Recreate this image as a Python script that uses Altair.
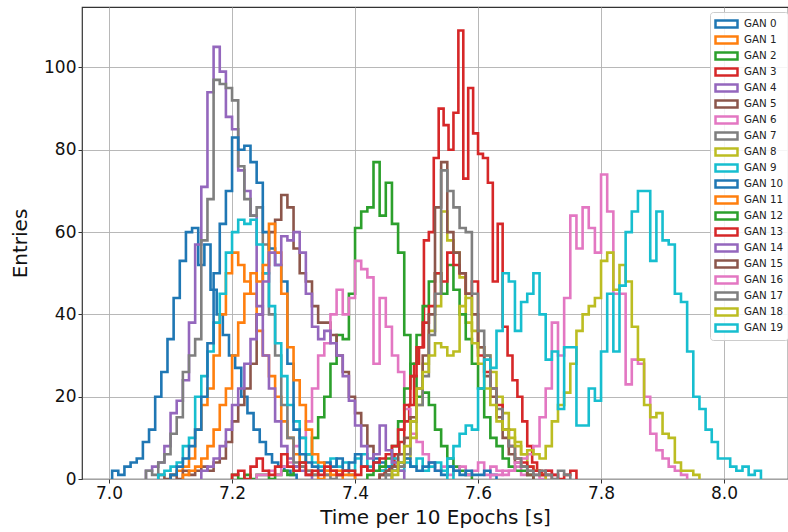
import altair as alt
import pandas as pd

# Step histograms of the time per 10 epochs, one per GAN.
# Each series: first bin edge, bin width, entries per bin.
gan_names = [f"GAN {i}" for i in range(20)]

gan_start = [7.005, 7.10, 7.20, 7.44, 7.06, 7.08, 7.24, 7.06, 7.46, 7.08,
             7.10, 7.12, 7.42, 7.20, 7.15, 7.44, 7.62, 7.45, 7.46, 7.55]

gan_width = [0.01, 0.01, 0.01, 0.008, 0.01, 0.01, 0.01, 0.01, 0.01, 0.01,
             0.01, 0.01, 0.01, 0.01, 0.01, 0.01, 0.01, 0.01, 0.01, 0.01]

gan0 = [2, 1, 3, 4, 5, 9, 12, 20, 26, 34, 44, 53, 60, 61, 52, 57, 46, 40, 35, 30,
        27, 20, 16, 12, 9, 6, 4, 3, 2, 1]
gan1 = [1, 2, 3, 5, 12, 18, 22, 30, 40, 50, 55, 52, 48, 45, 36, 30, 25, 20, 14, 10,
        6, 3, 2, 1, 0, 1, 2, 1]
gan2 = [1, 0, 1, 0, 1, 1, 0, 1, 2, 1, 3, 4, 6, 10, 15, 20, 28, 35, 34, 45,
        61, 65, 66, 77, 64, 72, 62, 55, 35, 25, 20, 21, 18, 12, 8, 5, 3, 2, 1]
gan3 = [1, 2, 3, 6, 9, 14, 18, 28, 32, 58, 60, 78, 90, 86, 80, 89, 109, 73, 95, 84,
        79, 78, 72, 48, 62, 37, 30, 24, 20, 14, 8, 4, 2, 1, 1]
gan4 = [2, 3, 4, 8, 16, 19, 24, 38, 57, 71, 94, 105, 99, 88, 85, 75, 70, 64, 42, 30,
        22, 14, 8, 5, 3, 2, 1]
gan5 = [1, 0, 1, 0, 2, 1, 2, 3, 2, 4, 5, 9, 14, 18, 22, 28, 40, 50, 60, 63,
        69, 66, 56, 50, 48, 42, 38, 38, 35, 30, 26, 20, 16, 13, 8, 4, 2, 1]
gan6 = [1, 1, 2, 1, 3, 4, 8, 10, 14, 22, 30, 33, 40, 46, 40, 44, 53, 51, 49, 28,
        44, 37, 30, 26, 17, 11, 9, 6, 4, 2, 3, 1, 2, 3, 1, 2, 4, 1, 3, 2,
        1, 2, 3, 1, 2, 1, 0, 2, 1]
gan7 = [2, 1, 4, 6, 11, 15, 26, 30, 34, 58, 68, 97, 96, 95, 92, 76, 68, 64, 66, 57,
        40, 30, 18, 10, 4, 3, 2, 1, 2, 1, 0, 1, 2, 1]
gan8 = [1, 3, 5, 10, 18, 28, 36, 42, 65, 58, 55, 49, 38, 36, 32, 30, 26, 20, 16, 12,
        9, 6, 3, 2, 1]
gan9 = [1, 2, 3, 4, 8, 10, 20, 25, 31, 38, 45, 55, 60, 63, 62, 63, 57, 50, 42, 33,
        25, 18, 14, 10, 6, 4, 3, 2, 5, 3, 4, 2, 5, 6, 3, 4, 2, 3, 5, 2,
        4, 3, 5, 2, 3, 4, 2, 3]
gan10 = [1, 3, 5, 8, 12, 20, 33, 50, 62, 70, 83, 80, 81, 77, 72, 60, 56, 52, 48, 28,
         12, 6, 4, 3, 2, 4, 3, 5, 2, 4, 6, 3, 2, 5, 4, 3, 2, 4, 5, 3,
         2, 3, 4, 2, 1, 3, 2, 1, 2, 1, 1, 2, 1]
gan11 = [1, 2, 3, 5, 8, 12, 18, 22, 30, 38, 45, 50, 48, 52, 62, 55, 45, 32, 24, 18,
         12, 6, 4, 2, 1, 2, 1, 1]
gan12 = [1, 2, 3, 5, 8, 14, 22, 28, 35, 42, 48, 50, 45, 52, 46, 40, 34, 28, 22, 15,
         10, 8, 5, 3, 2, 2, 1]
gan13 = [1, 2, 0, 3, 5, 2, 1, 3, 6, 3, 2, 4, 1, 2, 1, 3, 2, 1, 2, 2,
         1, 3, 2, 4, 5, 6, 8, 12, 18, 25, 32, 38, 42, 50, 48, 55, 52, 50, 45, 48,
         30, 26, 22, 18, 12, 8, 5, 4, 3, 2, 1, 2, 1, 0, 1, 2]
gan14 = [2, 3, 5, 8, 12, 18, 22, 28, 34, 40, 48, 55, 52, 59, 58, 60, 55, 45, 37, 34,
         36, 33, 30, 25, 19, 13, 8, 5, 6, 13, 7, 4, 2]
gan15 = [1, 2, 3, 6, 10, 15, 22, 30, 40, 66, 77, 60, 55, 50, 45, 40, 32, 25, 20, 15,
         10, 6, 4, 3, 1]
gan16 = [1, 1, 2, 2, 4, 5, 6, 8, 15, 22, 38, 30, 44, 64, 56, 66, 61, 55, 74, 65,
         45, 45, 23, 29, 28, 20, 11, 7, 5, 3, 2, 1]
gan17 = [1, 2, 3, 6, 14, 18, 25, 35, 45, 75, 70, 66, 61, 60, 45, 36, 30, 22, 17, 12,
         8, 5, 3, 2, 1, 2, 1, 0, 2, 1]
gan18 = [2, 4, 8, 14, 22, 26, 30, 33, 32, 30, 31, 42, 44, 33, 28, 22, 18, 14, 12, 10,
         8, 6, 7, 6, 5, 8, 14, 18, 21, 28, 36, 40, 42, 44, 53, 55, 46, 52, 48, 37,
         29, 18, 15, 16, 11, 10, 4, 2, 2, 1]
gan19 = [5, 8, 11, 13, 12, 22, 29, 27, 36, 50, 48, 36, 43, 45, 50, 40, 29, 31, 17, 32,
         32, 13, 13, 22, 19, 31, 45, 31, 47, 60, 65, 70, 70, 53, 65, 58, 57, 45, 43, 31,
         20, 17, 12, 9, 5, 5, 3, 2, 3, 1, 2]

gan_counts = [gan0, gan1, gan2, gan3, gan4, gan5, gan6, gan7, gan8, gan9,
              gan10, gan11, gan12, gan13, gan14, gan15, gan16, gan17, gan18, gan19]

tab10 = ["#1f77b4", "#ff7f0e", "#2ca02c", "#d62728", "#9467bd",
         "#8c564b", "#e377c2", "#7f7f7f", "#bcbd22", "#17becf"]

x_ticks = [7.0, 7.2, 7.4, 7.6, 7.8, 8.0]
y_ticks = [0, 20, 40, 60, 80, 100]

# Outline of each histogram: rise at the first edge, one step per bin,
# drop back to zero at the last edge.
rows = []
for i, (name, start, width, counts) in enumerate(zip(gan_names, gan_start, gan_width, gan_counts)):
    pts = [(start, 0)]
    pts += [(start + k * width, c) for k, c in enumerate(counts)]
    pts.append((start + len(counts) * width, 0))
    for j, (t, n) in enumerate(pts):
        rows.append({"gan": name, "rank": i, "step": j, "t": round(t, 5), "n": n})
df = pd.DataFrame(rows)

FONT = "DejaVu Sans"

# Wide, flat outlined box used as the legend key (path spans beyond the unit square).
LEGEND_KEY = "M-2.75,-0.9H2.75V0.9H-2.75Z"

chart = (
    alt.Chart(df)
    .mark_line(interpolate="step-after", strokeWidth=2.6, clip=True, strokeJoin="miter")
    .encode(
        x=alt.X(
            "t:Q",
            scale=alt.Scale(domain=[6.956, 8.104], nice=False, zero=False),
            axis=alt.Axis(values=x_ticks, format=".1f", title="Time per 10 Epochs [s]",
                          titlePadding=6),
        ),
        y=alt.Y(
            "n:Q",
            scale=alt.Scale(domain=[0, 114.7], nice=False),
            axis=alt.Axis(values=y_ticks, format="d", title="Entries", titlePadding=13),
        ),
        color=alt.Color(
            "gan:N",
            sort=gan_names,
            scale=alt.Scale(domain=gan_names, range=tab10 * 2),
            legend=alt.Legend(
                title=None,
                orient="none",
                legendX=628,
                legendY=5,
                symbolType=LEGEND_KEY,
                symbolSize=64,
                symbolStrokeWidth=2.5,
                symbolFillColor="white",
                symbolOpacity=1,
                symbolOffset=7,
                labelFont=FONT,
                labelFontSize=10.3,
                labelColor="#222222",
                labelOffset=12,
                padding=4,
                rowPadding=0,
                clipHeight=16,
                fillColor="rgba(255,255,255,0.85)",
                strokeColor="#cccccc",
                cornerRadius=3,
                symbolLimit=0,
            ),
        ),
        order=alt.Order("step:Q"),
    )
    .properties(
        width=706,
        height=472,
        padding={"left": 82, "top": 7, "right": 0, "bottom": 53},
        autosize=alt.AutoSizeParams(type="none"),
    )
    .configure_view(stroke="#333333", strokeWidth=1.2)
    .configure_axis(
        domain=False,
        grid=True,
        gridColor="#b0b0b0",
        gridWidth=0.9,
        tickColor="#333333",
        tickSize=4,
        tickWidth=1,
        labelFont=FONT,
        labelFontSize=17,
        labelColor="#111111",
        labelPadding=2,
        titleFont=FONT,
        titleFontSize=20,
        titleFontWeight="normal",
        titleColor="#111111",
    )
)

chart.save("out.html", embed_options={"renderer": "svg", "actions": False})
